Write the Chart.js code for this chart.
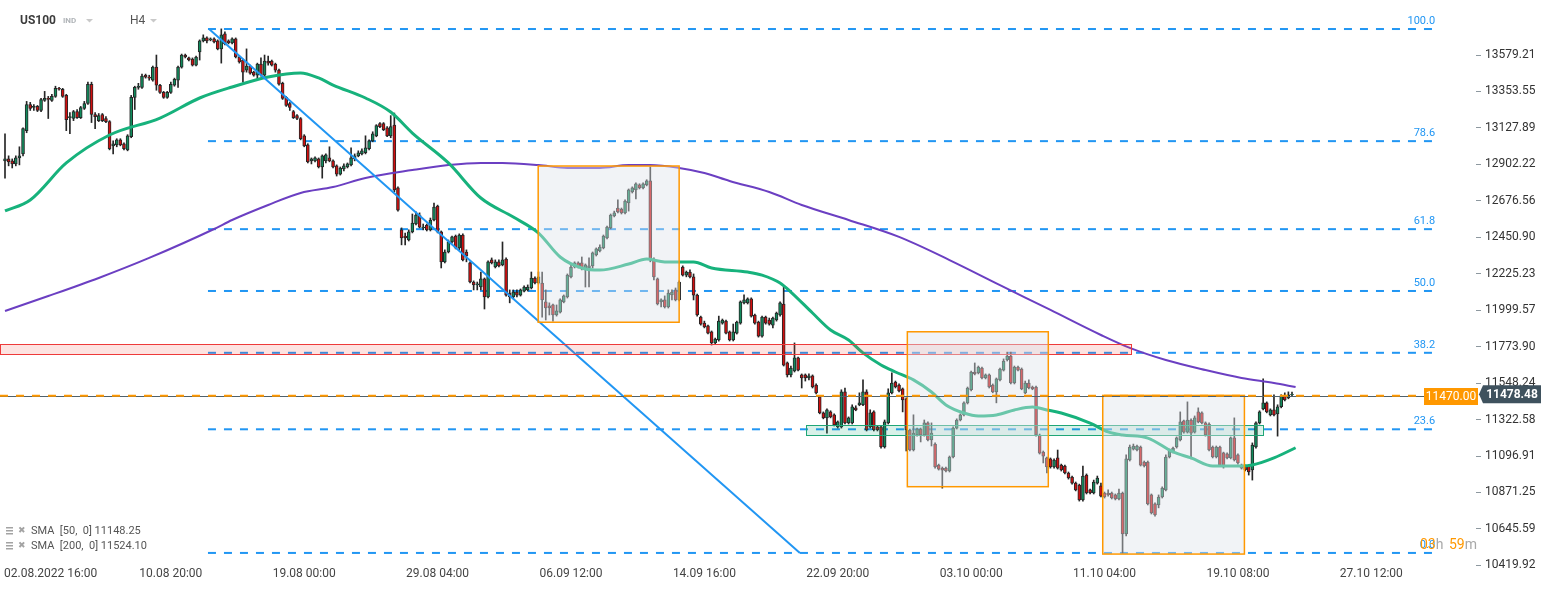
<!DOCTYPE html>
<html>
<head>
<meta charset="utf-8">
<script src="https://cdn.jsdelivr.net/npm/chart.js@4.4.0/dist/chart.umd.min.js"></script>
<style>html,body{margin:0;padding:0;background:#fff}canvas{display:block}</style>
</head>
<body>
<canvas id="c" width="1546" height="590"></canvas>
<script>
// US100 H4 — candles, SMA 50/200, fibonacci retracement, zones
var opens=[12924,12936,12924,12905,12942,12967,13111,13273,13254,13261,
13236,13298,13311,13298,13323,13373,13367,13329,13192,13186,
13229,13192,13248,13279,13398,13211,13173,13211,13186,13167,
13017,13023,13054,13030,12992,13073,13317,13379,13379,13454,
13442,13423,13504,13392,13348,13317,13348,13392,13423,13504,
13579,13561,13554,13517,13598,13667,13685,13673,13679,13667,
13617,13710,13667,13654,13679,13567,13548,13486,13511,13473,
13454,13523,13454,13542,13542,13523,13486,13404,13317,13279,
13229,13204,13186,13079,13023,12924,12924,12936,12886,12924,
12942,12924,12893,12842,12874,12886,12899,12936,12955,12967,
12974,12999,13048,13079,13154,13154,13129,13079,
13146,12757,12497,12459,12434,12484,12533,12589,12509,12527,
12497,12558,12644,12484,12299,12360,12422,12459,12385,12465,
12360,12292,12174,12156,12143,12193,12081,12311,12267,12299,
12280,12316,12106,12081,12112,12093,12118,12125,12137,12199,
12168,12168,12051,12026,12032,11970,11988,12051,12081,12206,
12267,12292,12292,12249,12261,12274,12341,12366,12385,12447,
12509,12583,12632,12625,12602,12663,12732,12744,12775,12757,
12775,12800,12311,12193,12051,12063,12020,12094,12125,12063,
12267,12217,12236,12206,12093,11957,11920,11902,11865,11797,
11815,11920,11932,11865,11815,11858,11920,12045,12045,12070,
11970,11926,11839,11957,11939,11907,11939,11970,12038,11673,
11599,11623,11704,11599,11599,11580,11593,11536,11463,11364,
11333,11370,11352,11277,11277,11494,11302,11302,11395,11414,
11414,11494,11277,11370,11277,11277,11153,11302,11488,11555,
11536,11513,11451,11258,11134,11227,11264,11227,11302,11196,
11171,11041,11022,11022,11004,11091,11270,11320,11352,11426,
11507,11617,11611,11642,11580,11599,11536,11494,11568,11629,
11692,11716,11549,11648,11635,11488,11549,11524,11524,11227,
11121,11085,11079,11029,11085,11041,11035,10992,10967,10929,
10917,10825,10979,10887,10868,10929,10912,10868,10868,10868,
10856,10831,10868,10614,11072,11140,11134,11153,11060,11060,
10856,10801,10794,10843,10887,11091,11121,11153,11196,11314,
11245,11320,11245,11370,11364,11302,11295,11153,11091,11153,
11116,11110,11085,11209,11104,11041,11035,11035,11011,11153,
11302,11389,11426,11352,11383,11358,11402,11469,11457,11476];
var highs=[13092,12955,12936,12955,13011,13129,13292,13286,13273,13267,
13311,13354,13323,13336,13386,13379,13373,13336,13223,13236,
13242,13261,13292,13411,13411,13223,13217,13217,13198,13173,
13048,13061,13061,13036,13086,13329,13386,13404,13461,13461,
13454,13511,13579,13398,13354,13354,13411,13436,13511,13585,
13585,13567,13561,13573,13673,13704,13692,13685,13685,13673,
13741,13723,13673,13685,13685,13573,13554,13617,13517,13479,
13529,13561,13579,13573,13548,13529,13492,13411,13323,13286,
13236,13211,13192,13086,13030,12942,12949,12942,12961,12967,
13011,12930,12899,12886,12905,12911,13005,12967,12986,12999,
13079,13054,13104,13148,13161,13161,13136,13204,
13220,12763,12509,12477,12497,12595,12608,12602,12533,12533,
12570,12663,12650,12490,12373,12434,12459,12465,12472,12472,
12373,12299,12181,12174,12236,12199,12305,12323,12311,12311,
12422,12323,12125,12125,12125,12131,12150,12156,12236,12206,
12236,12236,12125,12045,12038,12032,12070,12094,12224,12280,
12299,12299,12329,12286,12323,12360,12385,12404,12465,12520,
12595,12613,12682,12632,12682,12750,12763,12788,12782,12788,
12807,12887,12323,12199,12070,12088,12125,12125,12137,12181,
12274,12242,12249,12224,12100,11963,11932,11908,11871,11827,
11963,11945,11939,11871,11914,11932,12057,12094,12076,12076,
11976,11932,11963,11963,11951,11957,11988,12051,12143,11679,
11654,11797,11710,11605,11605,11605,11599,11543,11469,11370,
11389,11377,11358,11314,11507,11518,11339,11414,11408,11488,
11568,11507,11383,11377,11283,11283,11320,11513,11612,11561,
11543,11518,11457,11264,11352,11270,11270,11320,11308,11302,
11178,11047,11029,11029,11097,11277,11327,11358,11432,11524,
11623,11673,11654,11648,11605,11605,11543,11580,11642,11698,
11740,11740,11654,11654,11642,11561,11568,11530,11530,11233,
11128,11091,11085,11079,11134,11047,11041,10998,10973,10936,
10923,11035,10986,10893,10948,10973,10929,10874,10887,10874,
10862,10893,10874,11104,11165,11171,11165,11159,11066,11066,
10862,10807,10856,10906,11104,11140,11153,11215,11370,11320,
11432,11327,11345,11395,11370,11308,11302,11159,11159,11159,
11121,11116,11215,11333,11110,11047,11041,11041,11178,11308,
11377,11574,11432,11389,11476,11414,11476,11488,11494,11492];
var lows=[12817,12893,12880,12893,12899,12955,13098,13236,13236,13229,
13229,13292,13186,13292,13317,13361,13317,13111,13092,13173,
13186,13186,13242,13273,13161,13123,13167,13167,13161,12992,
12967,13011,13017,12992,12986,13067,13242,13367,13373,13436,
13423,13417,13361,13342,13311,13311,13342,13386,13379,13498,
13561,13542,13511,13511,13548,13660,13654,13667,13654,13611,
13529,13642,13648,13648,13561,13529,13411,13473,13461,13448,
13429,13448,13448,13517,13511,13473,13392,13304,13261,13236,
13186,13179,13054,13011,12911,12905,12918,12880,12817,12911,
12918,12880,12830,12836,12861,12880,12893,12924,12949,12961,
12967,12992,13042,13073,13129,13111,13073,13067,
12732,12613,12404,12404,12428,12478,12527,12509,12497,12490,
12490,12552,12478,12261,12292,12354,12415,12379,12373,12305,
12299,12168,12125,12125,12125,12007,12075,12286,12261,12267,
12274,12087,12045,12070,12081,12087,12112,12118,12131,12162,
12162,11957,11939,11970,11932,11963,11982,12045,12075,12199,
12261,12261,12249,12143,12143,12261,12335,12360,12379,12440,
12503,12577,12602,12595,12595,12613,12725,12688,12750,12750,
12769,12299,12187,12032,12020,12013,12013,12063,12057,12057,
12211,12206,12199,12063,11963,11907,11890,11852,11784,11791,
11808,11913,11852,11809,11809,11852,11913,12038,12038,11957,
11913,11833,11833,11913,11907,11890,11932,11963,11654,11586,
11586,11617,11623,11518,11561,11568,11518,11482,11358,11327,
11239,11333,11283,11270,11270,11295,11295,11295,11377,11408,
11408,11252,11270,11252,11252,11146,11146,11295,11482,11518,
11494,11370,11128,11128,11128,11220,11184,11220,11190,11159,
11022,11010,10898,10998,10998,11085,11264,11314,11345,11419,
11500,11599,11605,11574,11574,11518,11488,11426,11561,11623,
11685,11543,11543,11623,11507,11482,11513,11507,11220,11109,
11054,10992,11022,11022,11016,11004,10986,10954,10923,10881,
10818,10818,10862,10862,10862,10923,10843,10837,10849,10831,
10825,10825,10496,10602,11066,11134,11128,11035,11029,10794,
10738,10725,10776,10837,10881,11085,11116,11146,11190,11239,
11239,11079,11239,11302,11295,11220,11128,11085,11085,11035,
11022,11079,11079,11066,11047,11016,11004,10979,10948,11146,
11295,11383,11364,11345,11345,11220,11395,11438,11451,11468];
var closes=[12936,12917,12905,12942,12955,13123,13273,13248,13261,13236,
13304,13311,13304,13323,13373,13367,13323,13179,13198,13229,
13192,13254,13279,13398,13211,13198,13204,13173,13167,12999,
13030,13054,13023,12999,13079,13317,13379,13386,13448,13442,
13436,13504,13392,13348,13317,13348,13398,13429,13504,13579,
13567,13548,13517,13567,13667,13685,13667,13679,13660,13617,
13704,13648,13654,13679,13567,13536,13473,13511,13467,13454,
13523,13454,13542,13529,13517,13486,13398,13311,13267,13254,
13192,13186,13061,13017,12918,12936,12942,12886,12955,12961,
12924,12886,12842,12880,12893,12905,12942,12955,12974,12986,
13005,13048,13092,13142,13136,13117,13079,13136,
12744,12619,12447,12447,12484,12539,12589,12514,12514,12497,
12558,12638,12484,12299,12360,12422,12453,12385,12465,12310,
12335,12174,12156,12162,12193,12081,12299,12292,12299,12274,
12311,12093,12081,12112,12093,12125,12143,12143,12199,12168,
12206,12063,12013,12013,11970,11995,12063,12088,12217,12267,
12292,12267,12255,12280,12274,12354,12379,12391,12459,12514,
12589,12602,12608,12602,12675,12744,12757,12782,12757,12782,
12800,12311,12206,12038,12063,12020,12106,12112,12063,12174,
12217,12236,12206,12093,11970,11913,11896,11858,11797,11821,
11932,11939,11858,11815,11865,11926,12051,12063,12070,11963,
11920,11839,11957,11920,11913,11951,11982,12045,11660,11599,
11642,11704,11629,11580,11580,11593,11524,11488,11364,11333,
11383,11339,11289,11308,11494,11302,11333,11402,11383,11426,
11494,11258,11364,11258,11258,11153,11308,11488,11549,11524,
11500,11444,11258,11134,11239,11264,11227,11302,11196,11239,
11029,11016,11010,11004,11091,11270,11320,11352,11426,11518,
11617,11605,11648,11580,11599,11524,11494,11574,11635,11685,
11716,11549,11648,11629,11513,11549,11518,11513,11227,11115,
11096,11029,11029,11072,11022,11011,10992,10961,10929,10887,
10825,10973,10868,10868,10936,10961,10849,10843,10856,10837,
10831,10868,10614,11079,11153,11159,11159,11041,11035,10801,
10744,10732,10843,10899,11091,11134,11146,11209,11308,11245,
11320,11239,11333,11308,11302,11227,11134,11091,11153,11041,
11029,11085,11209,11072,11054,11022,11011,10998,11165,11302,
11370,11426,11370,11383,11352,11402,11469,11444,11476,11478.48];

// x ticks are candle indexes
var dateTicks=[9,46,83,120,157,194,231,268,305,342,379];
var dateLabels=["02.08.2022 16:00","10.08 20:00","19.08 00:00","29.08 04:00","06.09 12:00","14.09 16:00","22.09 20:00","03.10 00:00","11.10 04:00","19.10 08:00","27.10 12:00"];
var priceTicks=[10419.92,10645.59,10871.25,11096.91,11322.58,11548.24,11773.90,11999.57,12225.23,12450.90,12676.56,12902.22,13127.89,13353.55,13579.21];

var sma50At=[0,7,17,29,43,54,63,73,82,87,91,100,107,113,123,132,141,148,154,160,165,173,178,183,191,196,206,210,215,218,224,229,234,238,243,247,252,257,261,266,270,275,280,285,289,293,301,306,310,317,324,329,335,343,346,352,358];
var sma50=[12614,12682,12911,13084,13189,13313,13381,13443,13468,13437,13393,13313,13226,13096,12911,12694,12576,12477,12329,12261,12248,12285,12316,12298,12298,12261,12236,12217,12168,12112,11982,11877,11815,11735,11660,11617,11568,11493,11413,11363,11345,11351,11382,11400,11382,11363,11301,11246,11227,11208,11122,11085,11035,11035,11041,11085,11148];
var sma200At=[0,12,26,40,58,63,73,82,91,100,113,123,132,138,148,156,165,173,179,187,194,201,212,221,234,248,262,276,290,304,312,322,333,343,352,358];
var sma200=[11995,12087,12199,12323,12502,12558,12651,12725,12762,12818,12867,12898,12911,12911,12898,12880,12880,12898,12898,12880,12849,12799,12731,12651,12558,12453,12310,12155,12001,11846,11766,11691,11629,11580,11549,11524];

var fibHigh=13740, fibLow=10497;
var fibRatios=[100,78.6,61.8,50,38.2,23.6,0];
var fibSpan=[56.3,396.7];
var trendStart=[56.6,13740], trendEnd=[220.5,10497];

var redZone=[11727,11788], redZoneSpan=[-1.4,312.3];
var tealZone=[11225,11289], tealZoneSpan=[222.2,348.9];
var boxSpans=[[147.9,187.0],[250.3,289.4],[304.5,343.8]];
var boxPrices=[[11925,12892],[10907,11866],[10490,11472]];

var alertLevel=11470, lastPrice=11478.48;
var smaLegend=["SMA  [50,  0] 11148.25","SMA  [200,  0] 11524.10"];

var GREEN="#118a5c", RED="#d10f0f", EDGE="#262626", BLUE="#2196f3", ORANGE="#ff9800";
var idx=closes.map(function(_,i){return i;});

function tri(ctx,x,y){ctx.beginPath();ctx.moveTo(x,y);ctx.lineTo(x+7,y);ctx.lineTo(x+3.5,y+3.5);ctx.closePath();ctx.fill();}

var overlay={
  id:"overlay",
  afterDatasetsDraw:function(chart){
    var ctx=chart.ctx,a=chart.chartArea,x=chart.scales.x,y=chart.scales.y;
    ctx.save();
    ctx.beginPath();ctx.rect(a.left,a.top,a.right-a.left,a.bottom-a.top);ctx.clip();
    function zone(span,pr,fill,line){
      var x0=x.getPixelForValue(span[0]),x1=x.getPixelForValue(span[1]);
      var y0=y.getPixelForValue(pr[1]),y1=y.getPixelForValue(pr[0]);
      ctx.fillStyle=fill;ctx.fillRect(x0,y0,x1-x0,y1-y0);
      ctx.strokeStyle=line;ctx.lineWidth=1;ctx.strokeRect(Math.round(x0)+0.5,Math.round(y0)+0.5,Math.round(x1-x0),Math.round(y1-y0));
    }
    zone(redZoneSpan,redZone,"rgba(244,67,54,0.15)","#ee3a3a");
    zone(tealZoneSpan,tealZone,"rgba(26,170,120,0.17)","#1fa677");
    boxSpans.forEach(function(s,i){
      var x0=x.getPixelForValue(s[0]),x1=x.getPixelForValue(s[1]);
      var y0=y.getPixelForValue(boxPrices[i][1]),y1=y.getPixelForValue(boxPrices[i][0]);
      ctx.fillStyle="rgba(222,226,234,0.42)";ctx.fillRect(x0,y0,x1-x0,y1-y0);
      ctx.strokeStyle=ORANGE;ctx.lineWidth=1.5;ctx.strokeRect(x0,y0,x1-x0,y1-y0);
    });
    // alert line at 11470
    var ya=y.getPixelForValue(alertLevel);
    ctx.strokeStyle="#4f616c";ctx.lineWidth=1;ctx.beginPath();ctx.moveTo(0,Math.round(ya)+0.5);ctx.lineTo(1424,Math.round(ya)+0.5);ctx.stroke();
    ctx.strokeStyle=ORANGE;ctx.lineWidth=2;ctx.setLineDash([8,8]);ctx.beginPath();ctx.moveTo(0,ya);ctx.lineTo(1424,ya);ctx.stroke();
    ctx.restore();
  },
  afterDraw:function(chart){
    var ctx=chart.ctx,x=chart.scales.x,y=chart.scales.y;
    ctx.save();
    ctx.textBaseline="middle";
    // date labels
    ctx.font="12px Roboto";ctx.fillStyle="#444";ctx.textAlign="left";
    dateTicks.forEach(function(t,i){
      var w=ctx.measureText(dateLabels[i]).width,px=x.getPixelForValue(t);
      ctx.fillText(dateLabels[i],Math.max(4,px-w/2),574);
    });
    // fib labels
    ctx.font="11px Roboto";ctx.fillStyle=BLUE;ctx.textAlign="right";
    var fx=x.getPixelForValue(fibSpan[1]);
    fibRatios.forEach(function(r){
      var p=fibLow+(fibHigh-fibLow)*r/100;
      ctx.fillText(r.toFixed(1),fx,y.getPixelForValue(p)-8);
    });
    // price tags
    var ya=y.getPixelForValue(alertLevel),yl=y.getPixelForValue(lastPrice);
    ctx.fillStyle=ORANGE;ctx.fillRect(1424,Math.round(ya)-8,54,17);
    ctx.fillStyle="#fff";ctx.font="12px Roboto";ctx.textAlign="center";
    ctx.fillText(alertLevel.toFixed(2),1451,Math.round(ya)+0.5);
    ctx.fillStyle="#3f525e";
    ctx.beginPath();ctx.moveTo(1479,yl);ctx.lineTo(1483,yl-9);ctx.lineTo(1541,yl-9);ctx.lineTo(1541,yl+9);ctx.lineTo(1483,yl+9);ctx.closePath();ctx.fill();
    ctx.fillStyle="#fff";ctx.font="bold 12px Roboto";
    ctx.fillText(lastPrice.toFixed(2),1512,yl+0.5);
    // countdown
    ctx.textAlign="left";ctx.font="14px Roboto";
    var cx=1420,parts=[["03",ORANGE],["h ","#a8a8a8"],["59",ORANGE],["m","#a8a8a8"]];
    parts.forEach(function(p){ctx.fillStyle=p[1];ctx.fillText(p[0],cx,545);cx+=ctx.measureText(p[0]).width+(p[0]==="h "?2:0);});
    // header
    ctx.font="bold 12px Roboto";ctx.fillStyle="#3c3c3c";ctx.fillText("US100",20,21);
    ctx.font="bold 8px Roboto";ctx.fillStyle="#b0b4b8";ctx.fillText("IND",63,21);
    ctx.fillStyle="#c9c9c9";tri(ctx,86,19);tri(ctx,150,19);
    ctx.font="12px Roboto";ctx.fillStyle="#555";ctx.fillText("H4",130,21);
    // SMA legend
    ctx.font="11px Roboto";
    smaLegend.forEach(function(t,i){
      var ly=531+i*15;
      ctx.fillStyle="#a3a3a3";
      ctx.fillRect(6,ly-4,7,1.5);ctx.fillRect(6,ly-1,7,1.5);ctx.fillRect(6,ly+2,7,1.5);
      ctx.font="9px 'DejaVu Sans'";ctx.fillText("\u2716",18,ly);
      ctx.font="11px Roboto";ctx.fillStyle="#555";ctx.fillText(t,31,ly);
    });
    ctx.restore();
  }
};

var datasets=[
  {type:"line",data:[{x:trendStart[0],y:trendStart[1]},{x:trendEnd[0],y:trendEnd[1]}],borderColor:BLUE,borderWidth:2,pointRadius:0,order:1},
  {type:"line",data:sma50At.map(function(v,i){return {x:v,y:sma50[i]};}),borderColor:"#17b27c",borderWidth:3,pointRadius:0,cubicInterpolationMode:"monotone",order:2},
  {type:"line",data:sma200At.map(function(v,i){return {x:v,y:sma200[i]};}),borderColor:"#6b3fc2",borderWidth:2,pointRadius:0,cubicInterpolationMode:"monotone",order:3},
  {type:"bar",data:idx.map(function(i){return {x:i,y:[Math.min(opens[i],closes[i]),Math.max(opens[i],closes[i])]};}),
   backgroundColor:idx.map(function(i){return closes[i]>=opens[i]?GREEN:RED;}),borderColor:EDGE,borderWidth:1,borderSkipped:false,barThickness:3,grouped:false,order:4},
  {type:"bar",data:idx.map(function(i){return {x:i,y:[lows[i],highs[i]]};}),backgroundColor:EDGE,barThickness:1,grouped:false,order:5}
];
fibRatios.forEach(function(r){
  var p=fibLow+(fibHigh-fibLow)*r/100;
  datasets.push({type:"line",data:[{x:fibSpan[0],y:p},{x:fibSpan[1],y:p}],borderColor:BLUE,borderWidth:2,borderDash:[8,8],pointRadius:0,order:6});
});

Chart.defaults.font.family="Roboto, 'Open Sans', sans-serif";
new Chart(document.getElementById("c"),{
  type:"bar",
  data:{datasets:datasets},
  options:{
    responsive:false,animation:false,devicePixelRatio:1,
    layout:{padding:{top:12,bottom:24,left:0,right:0}},
    plugins:{legend:{display:false},tooltip:{enabled:false}},
    scales:{
      x:{type:"linear",display:false,offset:false,min:-1.387,max:408.04},
      y:{type:"linear",position:"right",min:10416.12,max:13845.38,
         afterBuildTicks:function(s){s.ticks=priceTicks.map(function(v){return {value:v};});},
         afterFit:function(s){s.width=70;},
         ticks:{padding:4,color:"#333",font:{size:12},autoSkip:false,callback:function(v){return Number(v).toFixed(2);}},
         grid:{drawOnChartArea:false,tickLength:5,color:"#8d989f"},
         border:{display:false}}
    }
  },
  plugins:[overlay]
});
</script>
</body>
</html>
